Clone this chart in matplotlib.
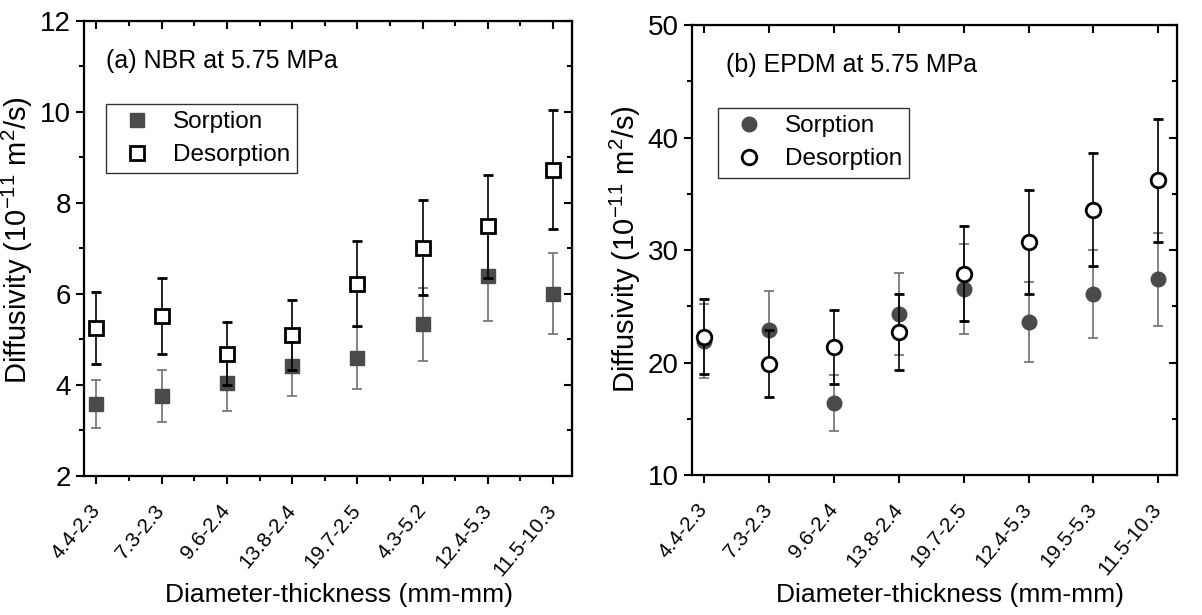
import matplotlib
matplotlib.use("Agg")
import matplotlib.pyplot as plt
from matplotlib.ticker import MultipleLocator
from matplotlib.lines import Line2D
from matplotlib.transforms import ScaledTranslation

plt.rcParams['font.family'] = ['Liberation Sans', 'DejaVu Sans']
plt.rcParams['mathtext.fontset'] = 'custom'
plt.rcParams['mathtext.rm'] = 'Liberation Sans'
plt.rcParams['mathtext.it'] = 'Liberation Sans:italic'

# NBR data
nbr_labels = ["4.4-2.3", "7.3-2.3", "9.6-2.4", "13.8-2.4", "19.7-2.5", "4.3-5.2", "12.4-5.3", "11.5-10.3"]
nbr_sorp = [3.59, 3.75, 4.04, 4.41, 4.60, 5.33, 6.39, 6.01]
nbr_sorp_err = [0.53, 0.57, 0.62, 0.65, 0.68, 0.81, 0.98, 0.90]
nbr_desorp = [5.26, 5.51, 4.69, 5.09, 6.23, 7.02, 7.49, 8.73]
nbr_desorp_err = [0.79, 0.83, 0.69, 0.77, 0.94, 1.05, 1.13, 1.31]

# EPDM data
epdm_labels = ["4.4-2.3", "7.3-2.3", "9.6-2.4", "13.8-2.4", "19.7-2.5", "12.4-5.3", "19.5-5.3", "11.5-10.3"]
epdm_sorp = [21.9, 22.9, 16.4, 24.3, 26.5, 23.6, 26.1, 27.4]
epdm_sorp_err = [3.3, 3.5, 2.45, 3.65, 4.0, 3.55, 3.9, 4.15]
epdm_desorp = [22.3, 19.9, 21.4, 22.7, 27.9, 30.7, 33.6, 36.2]
epdm_desorp_err = [3.35, 3.0, 3.27, 3.4, 4.2, 4.65, 5.05, 5.45]

fig = plt.figure(figsize=(12.02, 6.15), dpi=100)
ax1 = fig.add_axes([0.0699, 0.226, 0.406, 0.740])
ax2 = fig.add_axes([0.5757, 0.2276, 0.4035, 0.7317])


def draw_panel(ax, labels, sorp, sorp_err, desorp, desorp_err, marker, ms, ylim, ymaj, ymin,
               title, leg_xy, title_xy, xminor, ylab_y, xlab_xy):
    x = list(range(1, len(labels) + 1))
    ax.errorbar(x, sorp, yerr=sorp_err, fmt=marker, ms=ms, color='#4a4a4a', mfc='#4a4a4a', mec='#4a4a4a',
                ecolor='#707070', elinewidth=1.2, capsize=3.5, capthick=1.2, zorder=3)
    ax.errorbar(x, desorp, yerr=desorp_err, fmt=marker, ms=ms, color='black', mfc='white', mec='black', mew=2,
                ecolor='black', elinewidth=1.2, capsize=3.5, capthick=1.2, zorder=4)
    ax.set_xlim(0.81, 8.29)
    ax.set_ylim(*ylim)
    ax.set_xticks(x)
    ax.set_xticklabels(labels, rotation=50, ha='right', va='center', rotation_mode='anchor', fontsize=15)
    shift = ScaledTranslation(0.2, 0, fig.dpi_scale_trans)
    for lab in ax.get_xticklabels():
        lab.set_transform(lab.get_transform() + shift)
    if xminor:
        ax.xaxis.set_minor_locator(MultipleLocator(0.5))
    ax.yaxis.set_major_locator(MultipleLocator(ymaj))
    ax.yaxis.set_minor_locator(MultipleLocator(ymin))
    ax.tick_params(axis='both', which='major', direction='out', length=6, width=1.5, labelsize=20)
    ax.tick_params(axis='x', which='major', labelsize=15, pad=16)
    ax.tick_params(axis='both', which='minor', direction='out', length=3.5, width=1.5)
    for s in ax.spines.values():
        s.set_linewidth(1.6)
    # mirror ticks on top / right pointing inward
    top = ax.secondary_xaxis('top')
    top.set_xticks(x)
    top.tick_params(direction='in', length=6, width=1.5, labeltop=False)
    if xminor:
        top.xaxis.set_minor_locator(MultipleLocator(0.5))
        top.tick_params(which='minor', direction='in', length=3.5, width=1.5)
    right = ax.secondary_yaxis('right')
    right.yaxis.set_major_locator(MultipleLocator(ymaj))
    right.yaxis.set_minor_locator(MultipleLocator(ymin))
    right.tick_params(which='major', direction='in', length=6, width=1.5, labelright=False)
    right.tick_params(which='minor', direction='in', length=3.5, width=1.5, labelright=False)
    ax.set_xlabel('Diameter-thickness (mm-mm)', fontsize=19)
    ax.xaxis.set_label_coords(*xlab_xy)
    ax.set_ylabel('Diffusivity (10$^{-11}$ m$^{2}$/s)', fontsize=21)
    ax.yaxis.set_label_coords(-0.100, ylab_y)
    ax.text(title_xy[0], title_xy[1], title, transform=ax.transAxes, fontsize=18, va='center', ha='left')
    handles = [Line2D([], [], ls='none', marker=marker, ms=ms, mfc='#4a4a4a', mec='#4a4a4a'),
               Line2D([], [], ls='none', marker=marker, ms=ms, mfc='white', mec='black', mew=2)]
    leg = ax.legend(handles, ['Sorption', 'Desorption'], loc='upper left', bbox_to_anchor=leg_xy,
                    borderaxespad=0, fontsize=17.5, frameon=True, fancybox=False, edgecolor='black',
                    numpoints=1, handlelength=1.95, handletextpad=0.5, borderpad=0.3, labelspacing=0.45)
    leg.get_frame().set_linewidth(1.0)


draw_panel(ax1, nbr_labels, nbr_sorp, nbr_sorp_err, nbr_desorp, nbr_desorp_err, 's', 10,
           (2, 12), 2, 1, '(a) NBR at 5.75 MPa', (0.045, 0.8176), (0.045, 0.913), True, 0.518,
           (0.522, -0.235))
draw_panel(ax2, epdm_labels, epdm_sorp, epdm_sorp_err, epdm_desorp, epdm_desorp_err, 'o', 10.5,
           (10, 50), 10, 5, '(b) EPDM at 5.75 MPa', (0.0536, 0.8156), (0.07, 0.912), False, 0.502,
           (0.531, -0.24))

fig.savefig('out.png', dpi=100)
